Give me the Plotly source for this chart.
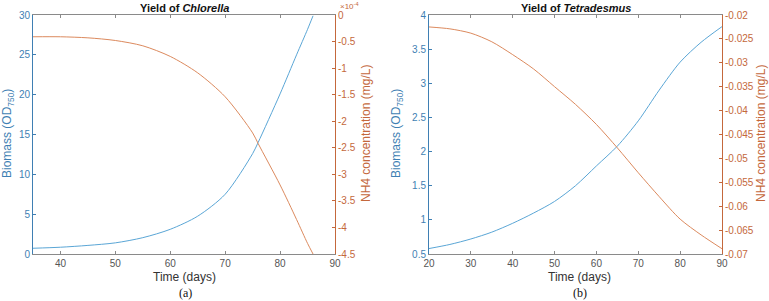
import plotly.graph_objects as go

# ---- data ----
days_chlorella = [35, 40, 45, 50, 55, 60, 65, 70, 75, 76, 80, 83, 85, 86]
biomass_chlorella = [0.72, 0.85, 1.08, 1.4, 2.05, 3.1, 4.75, 7.5, 12.6, 14.0, 20.1, 25.0, 28.2, 29.9]
nh4_chlorella_e4 = [-0.41, -0.41, -0.43, -0.48, -0.58, -0.78, -1.09, -1.54, -2.22, -2.42, -3.2, -3.85, -4.3, -4.5]

days_tetradesmus = [20, 25, 30, 35, 40, 45, 50, 55, 60, 65, 70, 75, 80, 85, 90]
biomass_tetradesmus = [0.58, 0.64, 0.72, 0.82, 0.95, 1.1, 1.27, 1.5, 1.79, 2.08, 2.45, 2.9, 3.31, 3.6, 3.83]
nh4_tetradesmus = [-0.0225, -0.0229, -0.0238, -0.0256, -0.0283, -0.0313, -0.035, -0.0387, -0.0429, -0.0478, -0.053, -0.058, -0.0627, -0.066, -0.0689]

chl_right_ticks = [0, -0.5, -1, -1.5, -2, -2.5, -3, -3.5, -4, -4.5]
chl_right_labels = ["0", "-0.5", "-1", "-1.5", "-2", "-2.5", "-3", "-3.5", "-4", "-4.5"]
tet_right_ticks = [-0.02, -0.025, -0.03, -0.035, -0.04, -0.045, -0.05, -0.055, -0.06, -0.065, -0.07]
tet_right_labels = ["-0.02", "-0.025", "-0.03", "-0.035", "-0.04", "-0.045", "-0.05", "-0.055", "-0.06", "-0.065", "-0.07"]

W, H = 769, 301
BLUE_LINE = "#5aa6d6"
ORANGE_LINE = "#dc8a5e"
BLUE_AX = "#3f7fb3"
ORANGE_AX = "#c4683c"
GRAY = "#8a8a8a"
FONT = "Liberation Sans, Arial, sans-serif"

def px_x(p):
    return p / W

def px_y(p):
    return 1 - p / H

fig = go.Figure()
line_kw = dict(shape="spline", smoothing=0.8, width=1)
fig.add_trace(go.Scatter(x=days_chlorella, y=biomass_chlorella, mode="lines",
                         line=dict(color=BLUE_LINE, **line_kw), xaxis="x", yaxis="y", showlegend=False))
fig.add_trace(go.Scatter(x=days_chlorella, y=nh4_chlorella_e4, mode="lines",
                         line=dict(color=ORANGE_LINE, **line_kw), xaxis="x", yaxis="y2", showlegend=False))
fig.add_trace(go.Scatter(x=days_tetradesmus, y=biomass_tetradesmus, mode="lines",
                         line=dict(color=BLUE_LINE, **line_kw), xaxis="x2", yaxis="y3", showlegend=False))
fig.add_trace(go.Scatter(x=days_tetradesmus, y=nh4_tetradesmus, mode="lines",
                         line=dict(color=ORANGE_LINE, **line_kw), xaxis="x2", yaxis="y4", showlegend=False))

ydom = [px_y(254), px_y(15)]

def xax(dom, rng, dtick, anchor):
    return dict(domain=dom, range=rng, dtick=dtick, anchor=anchor, showline=True, linecolor=GRAY,
                linewidth=1, mirror="ticks", ticks="inside", ticklen=3, tickcolor=GRAY,
                showgrid=False, zeroline=False, automargin=False,
                tickfont=dict(family=FONT, size=10, color="#555"))

def yax(rng, dtick, color, side="left", overlaying=None, anchor=None, tickvals=None, ticktext=None):
    d = dict(domain=ydom, range=rng, showline=True, linecolor=color, linewidth=1,
             ticks="inside", ticklen=3, tickcolor=color, showgrid=False, zeroline=False,
             automargin=False, tickfont=dict(family=FONT, size=10, color=color), side=side)
    if tickvals is not None:
        d["tickvals"] = tickvals
        d["ticktext"] = ticktext
    else:
        d["dtick"] = dtick
    if overlaying:
        d["overlaying"] = overlaying
    if anchor:
        d["anchor"] = anchor
    return d

fig.update_layout(
    width=W, height=H, margin=dict(l=0, r=0, t=0, b=0, pad=0, autoexpand=False),
    paper_bgcolor="white", plot_bgcolor="white",
    xaxis=xax([px_x(33), px_x(335)], [35, 90], 10, "y"),
    yaxis=yax([0, 30], 5, BLUE_AX, anchor="x"),
    yaxis2=yax([-4.5, 0], None, ORANGE_AX, side="right", overlaying="y", anchor="x",
               tickvals=chl_right_ticks, ticktext=chl_right_labels),
    xaxis2=xax([px_x(429), px_x(722)], [20, 90], 10, "y3"),
    yaxis3=yax([0.5, 4], 0.5, BLUE_AX, anchor="x2"),
    yaxis4=yax([-0.07, -0.02], None, ORANGE_AX, side="right", overlaying="y3", anchor="x2",
               tickvals=tet_right_ticks, ticktext=tet_right_labels),
)

annotations = []

def add_text(text, xp, yp, size, color, angle=0, family=FONT, xanchor="center", yanchor="middle"):
    annotations.append(dict(text=text, x=px_x(xp), y=px_y(yp), xref="paper", yref="paper",
                            showarrow=False, xanchor=xanchor, yanchor=yanchor, textangle=angle,
                            font=dict(family=family, size=size, color=color)))

add_text("<b>Yield of <i>Chlorella</i></b>", 184, 8, 11, "#111")
add_text("<b>Yield of <i>Tetradesmus</i></b>", 576, 8, 11, "#111")
add_text("×10<sup>-4</sup>", 338, -1, 8, ORANGE_AX, xanchor="left", yanchor="top")
add_text("Biomass (OD<sub>750</sub>)", 8, 134, 12, BLUE_AX, angle=-90)
add_text("NH4 concentration (mg/L)", 366, 134, 12, ORANGE_AX, angle=-90)
add_text("Biomass (OD<sub>750</sub>)", 397, 134, 12, BLUE_AX, angle=-90)
add_text("NH4 concentration (mg/L)", 761, 134, 12, ORANGE_AX, angle=-90)
add_text("Time (days)", 184, 277, 12, "#333")
add_text("Time (days)", 579, 277, 12, "#333")
serif = "Liberation Serif, Times New Roman, serif"
add_text("(a)", 185, 293, 12, "#111", family=serif)
add_text("(b)", 580, 293, 12, "#111", family=serif)
fig.update_layout(annotations=annotations)

fig.write_html("out.html", config={"displayModeBar": False},
               post_script="document.body.style.margin='0';")
